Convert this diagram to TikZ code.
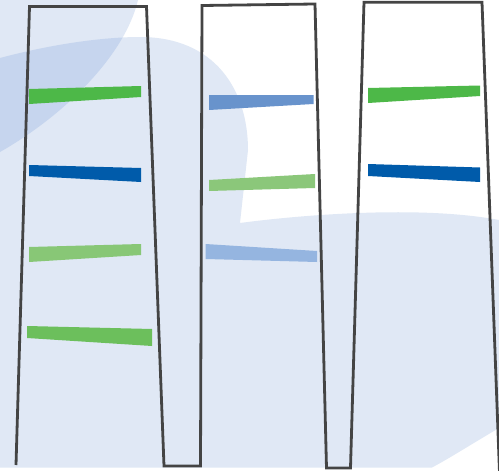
\documentclass[tikz,border=0pt]{standalone}
\begin{document}
\begin{tikzpicture}[x=1pt,y=-1pt]
\definecolor{bgl}{HTML}{E0E8F5}
\definecolor{bgd}{HTML}{C6D5EE}
\definecolor{outl}{HTML}{444444}
\definecolor{gA}{HTML}{4DB848}
\definecolor{gB}{HTML}{88C776}
\definecolor{gC}{HTML}{6CBF5C}
\definecolor{gD}{HTML}{8BC77A}
\definecolor{bA}{HTML}{005BAA}
\definecolor{bB}{HTML}{6893CC}
\definecolor{bC}{HTML}{95B5E0}
\useasboundingbox (0,0) rectangle (499,471);
\fill[white] (0,0) rectangle (499,471);
% background shapes
\def\shapeB{(0,0) -- (138,0) .. controls (125,55) and (65,115) .. (0,152) -- cycle}
\def\shapeA{(0,58) .. controls (60,42) and (110,37) .. (140,37) .. controls (215,37) and (248,90) .. (248,150) -- (240,223) .. controls (300,215) and (420,205) .. (499,220) -- (499,428) .. controls (470,445) and (450,458) .. (432,467.5) -- (0,467.5) -- cycle}
\fill[bgl] \shapeB;
\fill[bgl] \shapeA;
\begin{scope}
\clip \shapeA;
\fill[bgd] \shapeB;
\end{scope}
% bands lane 1
\fill[gA] (29,89) -- (141,86) -- (141,97) -- (29,104) -- cycle;
\fill[bA] (29,165) -- (141,168) -- (141,182) -- (29,176) -- cycle;
\fill[gB] (29,247) -- (141,244) -- (141,255) -- (29,262) -- cycle;
\fill[gC] (27,326) -- (152,329) -- (152,346) -- (27,338) -- cycle;
% bands lane 2
\fill[bB] (209,95) -- (313.5,95) -- (313.5,104) -- (209,110) -- cycle;
\fill[gD] (209,180) -- (315,174) -- (315,188) -- (209,191) -- cycle;
\fill[bC] (205.5,244) -- (317,251) -- (317,262) -- (205.5,259) -- cycle;
% bands lane 3
\fill[gA] (368,88) -- (480,85.5) -- (480,96) -- (368,103) -- cycle;
\fill[bA] (368,164) -- (480,167.5) -- (480,182) -- (368,176) -- cycle;
% outline
\draw[outl,line width=2.8pt,line join=miter] (16,465) -- (29.5,6.5) -- (146.5,6.5) -- (164,466) -- (200.5,466) -- (202,5.5) -- (315,4) -- (326.5,468) -- (350.5,468) -- (364,2.2) -- (482,2.2) -- (499.5,472);
\end{tikzpicture}
\end{document}
